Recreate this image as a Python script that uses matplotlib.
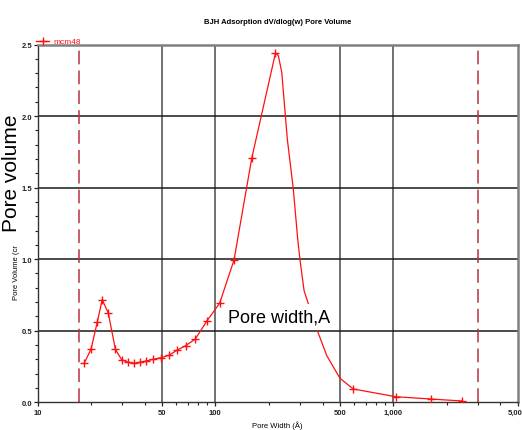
import matplotlib
matplotlib.use("Agg")
import matplotlib.pyplot as plt
from matplotlib.ticker import FixedLocator, NullFormatter
import numpy as np

plt.rcParams['font.family'] = ['Liberation Sans', 'DejaVu Sans']

# ---- data ----
marker_width = [18.3, 20.0, 21.7, 23.1, 25.0, 27.4, 29.7, 32.3, 34.8, 37.7, 40.9,
                44.6, 49.6, 54.8, 60.6, 68.1, 77.1, 89.3, 105.6, 127.2, 160.0,
                217.6, 596, 1031, 1622, 2443]
marker_volume = [0.273, 0.372, 0.563, 0.717, 0.624, 0.370, 0.298, 0.280, 0.273,
                 0.280, 0.289, 0.300, 0.312, 0.328, 0.363, 0.396, 0.442, 0.566,
                 0.692, 0.994, 1.705, 2.441, 0.093, 0.039, 0.023, 0.009]
# extra points (descending limb)
trace_width = [225.8, 235.9, 253.5, 274, 290, 298.9, 315, 367.8, 422.5, 501]
trace_volume = [2.422, 2.306, 1.840, 1.491, 1.141, 0.994, 0.78, 0.524, 0.326, 0.168]

limit_lines = [17.0, 3000.0]
x_major = [10, 50, 100, 500, 1000, 5000]
x_major_labels = ['10', '50', '100', '500', '1,000', '5,000']
x_minor = [20, 30, 40, 60, 70, 80, 90, 200, 300, 400, 600, 700, 800, 900,
           2000, 3000, 4000]
y_major = [0.0, 0.5, 1.0, 1.5, 2.0, 2.5]
y_major_labels = ['0.0', '0.5', '1.0', '1.5', '2.0', '2.5']
series_name = 'mcm48'

W, H = 522, 431
fig = plt.figure(figsize=(W / 100, H / 100), dpi=100)
fig.patch.set_facecolor('white')
ax = fig.add_axes([37.5 / W, 1 - 403.3 / H, (517.7 - 37.5) / W, (403.3 - 45.5) / H])
ax.set_xscale('log')
ax.set_xlim(10, 5000)
ax.set_ylim(0, 2.5)

# grid lines
for xv in x_major[1:-1]:
    ax.axvline(xv, color='#4a4a4a', lw=1.1, zorder=1)
for yv in y_major[1:-1]:
    ax.axhline(yv, color='#1a1a1a', lw=1.1, zorder=1)

# limit lines
for xv in limit_lines:
    ax.axvline(xv, color='#b8323c', lw=1.1, ls=(0, (9, 4)), zorder=2)

# curve
lw_all = np.array(marker_width + trace_width)
lv_all = np.array(marker_volume + trace_volume)
order = np.argsort(lw_all)
ax.plot(lw_all[order], lv_all[order], color='#ff1010', lw=0.9, zorder=3)
ax.plot(marker_width, marker_volume, ls='none', marker='+', ms=6, mew=1.0,
        color='#ff1010', zorder=4)
ax.plot([], [], color='#ff1010', marker='+', ms=6, mew=1.0, lw=1.0, label=series_name)

# ticks
ax.xaxis.set_major_locator(FixedLocator(x_major))
ax.set_xticklabels(x_major_labels)
ax.xaxis.set_minor_locator(FixedLocator(x_minor))
ax.xaxis.set_minor_formatter(NullFormatter())
ax.set_yticks(y_major)
ax.set_yticklabels(y_major_labels)
ax.yaxis.set_minor_locator(FixedLocator(np.arange(0.1, 2.5, 0.1)))
ax.tick_params(axis='both', which='major', direction='out', length=3, width=0.9,
               labelsize=5.5, colors='#222222')
ax.tick_params(axis='x', which='major', pad=2)
ax.tick_params(axis='y', which='major', pad=0.6)
ax.tick_params(axis='both', which='minor', direction='out', length=2, width=0.8,
               colors='#222222')
for lab in ax.get_xticklabels() + ax.get_yticklabels():
    lab.set_fontweight('bold')

for s in ['left', 'bottom']:
    ax.spines[s].set_color('#333333')
    ax.spines[s].set_linewidth(1.0)
for s in ['top', 'right']:
    ax.spines[s].set_color('#808080')
    ax.spines[s].set_linewidth(1.8)

ax.set_xlabel('Pore Width (Å)', fontsize=5.5, labelpad=3)

leg = ax.legend(loc='lower left', bbox_to_anchor=(-0.005, 0.995), frameon=False,
                fontsize=6, labelcolor='#ff1010', handlelength=1.6,
                handletextpad=0.5, borderaxespad=0, borderpad=0.1)

fig.text(277.6 / W, 1 - 23 / H, 'BJH Adsorption dV/dlog(w) Pore Volume',
         ha='center', va='center', fontsize=5.5, fontweight='bold')

# y-axis label (partly covered)
fig.text(16 / W, 1 - 300 / H, 'Pore Volume (cr', rotation=90, ha='center',
         va='bottom', fontsize=5.5)
fig.text(11.5 / W, 1 - 232 / H, 'Pore volume', rotation=90, ha='center',
         va='bottom', fontsize=15)

# overlay annotation
fig.text(279 / W, 1 - 318 / H, 'Pore width,A', ha='center', va='center',
         fontsize=13, zorder=10,
         bbox=dict(facecolor='white', edgecolor='none', pad=3))

fig.savefig('out.png', dpi=100, facecolor='white')
